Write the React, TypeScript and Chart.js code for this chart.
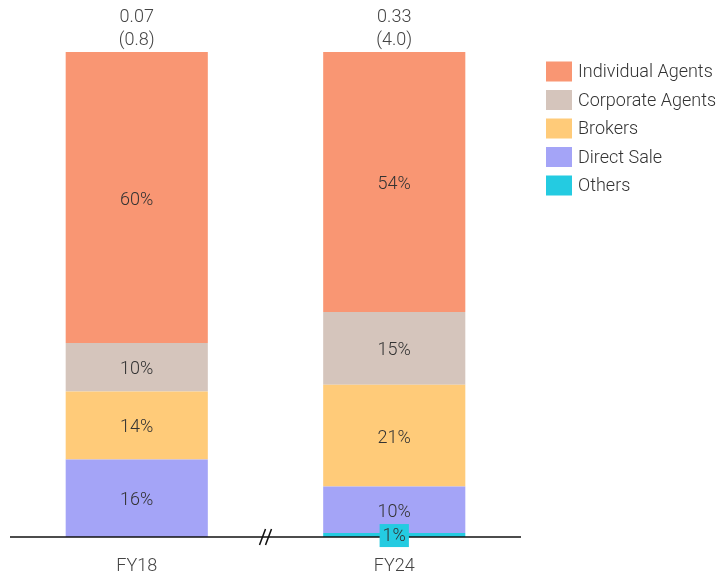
import React, { useEffect, useRef } from "react";
import { Chart, registerables } from "chart.js";

Chart.register(...registerables);

const categories = ["FY18", "FY24"];
const topValues = ["0.07", "0.33"];
const topSubValues = ["(0.8)", "(4.0)"];

// stacked bottom -> top
const others = [0, 0.8];
const directSale = [16, 9.6];
const brokers = [14, 21.0];
const corporateAgents = [10, 15.0];
const individualAgents = [60, 53.6];

const seriesNames = ["Others", "Direct Sale", "Brokers", "Corporate Agents", "Individual Agents"];
const seriesColors = ["#24CBE1", "#A4A4F7", "#FFCB79", "#D5C5BC", "#F99673"];

const FONT = "Roboto, 'Noto Sans', sans-serif";

const overlayPlugin = {
  id: "overlay",
  afterDatasetsDraw(chart: any) {
    const ctx = chart.ctx as CanvasRenderingContext2D;
    const area = chart.chartArea;
    ctx.save();

    // axis line
    ctx.strokeStyle = "#111";
    ctx.lineWidth = 1.5;
    ctx.beginPath();
    ctx.moveTo(10, area.bottom);
    ctx.lineTo(521, area.bottom);
    ctx.stroke();

    // break marker
    const bx = (chart.getDatasetMeta(0).data[0].x + chart.getDatasetMeta(0).data[1].x) / 2;
    ctx.lineWidth = 1.5;
    for (const dx of [-3, 3]) {
      ctx.beginPath();
      ctx.moveTo(bx + dx - 3, area.bottom + 8);
      ctx.lineTo(bx + dx + 3, area.bottom - 8);
      ctx.stroke();
    }

    // segment labels
    ctx.font = `300 18px ${FONT}`;
    ctx.textAlign = "center";
    ctx.textBaseline = "middle";
    chart.data.datasets.forEach((ds: any, di: number) => {
      const meta = chart.getDatasetMeta(di);
      meta.data.forEach((el: any, i: number) => {
        const v = ds.data[i];
        if (!v) return;
        const cy = (el.y + el.base) / 2;
        const txt = Math.round(v) + "%";
        if (v < 3) {
          const w = ctx.measureText(txt).width + 6;
          ctx.fillStyle = ds.backgroundColor;
          ctx.fillRect(el.x - w / 2, cy - 11, w, 23);
          ctx.fillStyle = "#333";
          ctx.fillText(txt, el.x, cy + 1.5);
        } else {
          ctx.fillStyle = "#333";
          ctx.fillText(txt, el.x, cy + 2.5);
        }
      });
    });

    // top labels
    ctx.fillStyle = "#444";
    const meta0 = chart.getDatasetMeta(0);
    meta0.data.forEach((el: any, i: number) => {
      ctx.fillText(topValues[i], el.x, 17);
      ctx.fillText(topSubValues[i], el.x, 40);
    });

    // legend
    ctx.textAlign = "left";
    const n = chart.data.datasets.length;
    for (let k = 0; k < n; k++) {
      const ds = chart.data.datasets[n - 1 - k];
      const cy = 71.5 + k * 28.5;
      ctx.fillStyle = ds.backgroundColor;
      ctx.fillRect(546, cy - 10, 26, 20);
      ctx.fillStyle = "#333";
      ctx.fillText(ds.label, 578, cy + 1);
    }
    ctx.restore();
  },
};

export default function App() {
  const ref = useRef<HTMLCanvasElement>(null);
  useEffect(() => {
    const values = [others, directSale, brokers, corporateAgents, individualAgents];
    const chart = new Chart(ref.current!, {
      type: "bar",
      data: {
        labels: categories,
        datasets: values.map((d, i) => ({
          label: seriesNames[i],
          data: d,
          backgroundColor: seriesColors[i],
          borderWidth: 0,
          categoryPercentage: 1,
          barPercentage: 0.552,
        })),
      },
      options: {
        responsive: false,
        animation: false,
        layout: { padding: { top: 52, left: 8, right: 199, bottom: 0 } },
        plugins: { legend: { display: false }, tooltip: { enabled: false } },
        scales: {
          x: {
            stacked: true,
            grid: { display: false, drawTicks: false },
            border: { display: false },
            ticks: { padding: 19, color: "#444", font: { family: FONT, size: 18, weight: 300 as any } },
            afterFit: (scale: any) => {
              scale.height = 41;
            },
          },
          y: { stacked: true, display: false, min: 0, max: 100 },
        },
      },
      plugins: [overlayPlugin],
    });
    return () => chart.destroy();
  }, []);
  return (
    <div style={{ position: "absolute", left: 0, top: 0, width: 722, height: 578 }}>
      <canvas ref={ref} width={722} height={578} style={{ display: "block" }} />
    </div>
  );
}
